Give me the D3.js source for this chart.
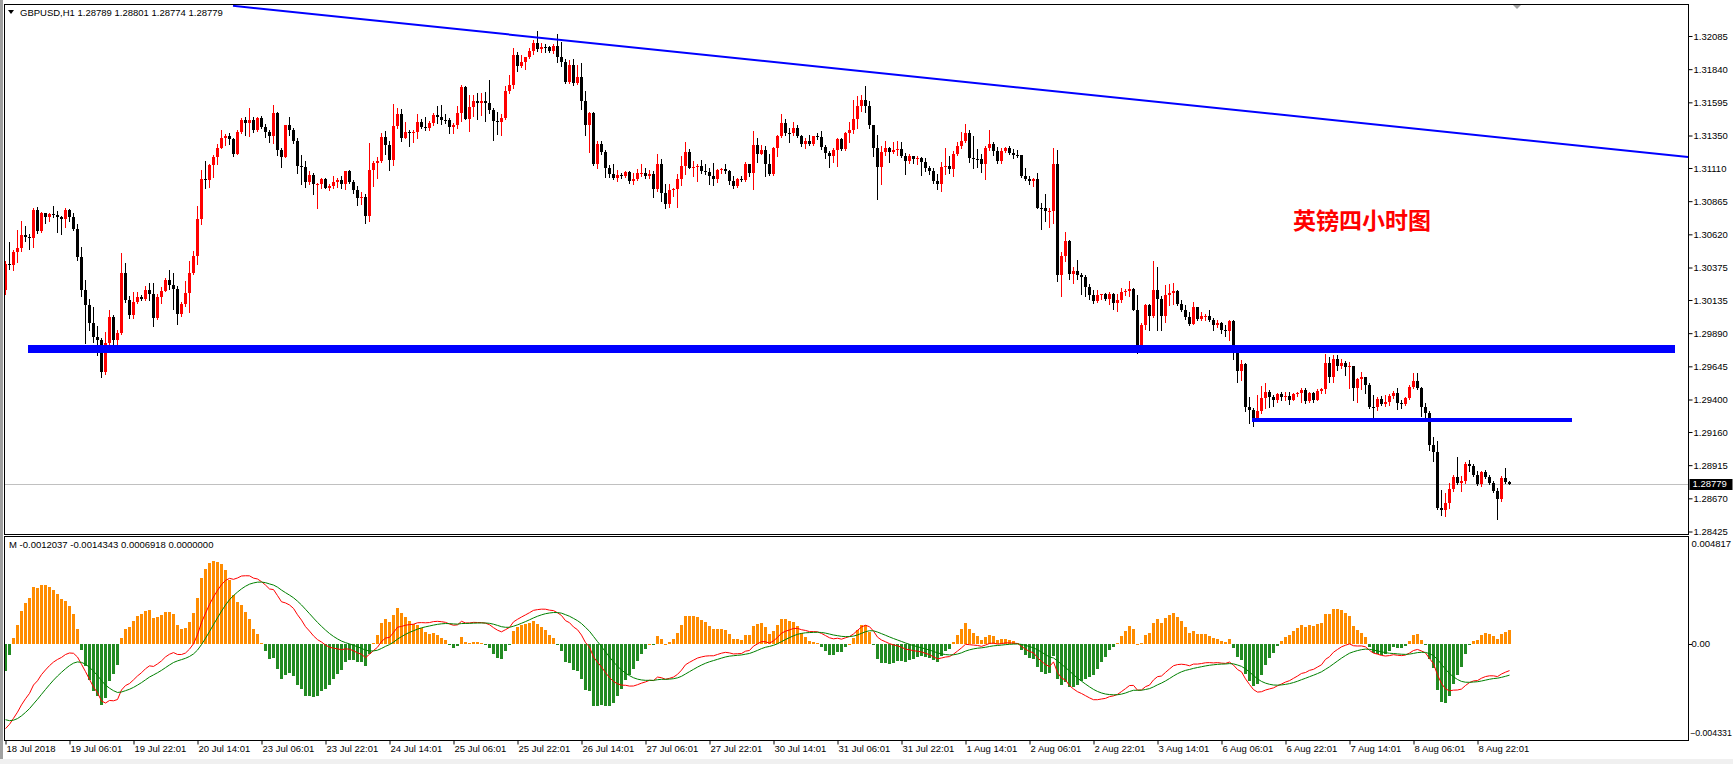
<!doctype html>
<html>
<head>
<meta charset="utf-8">
<script src="https://cdnjs.cloudflare.com/ajax/libs/d3/7.8.5/d3.min.js"></script>
<style>
  body { margin: 0; background: #fff; }
  svg { display: block; }
  text { font-family: "Liberation Sans", Arial, sans-serif; }
</style>
</head>
<body>
<div id="chart"></div>
<script>
// GBPUSD H1, 18 Jul 2018 14:00 .. 9 Aug 2018 06:00 (one value per bar)
var firstOpen = 1.30206;
var closes = [
  1.30402,1.30390,1.30488,1.30520,1.30615,1.30598,1.30595,1.30799,1.30642,1.30777,
  1.30750,1.30769,1.30765,1.30745,1.30733,1.30799,1.30750,1.30659,1.30456,1.30206,
  1.30096,1.29968,1.29863,1.29838,1.29606,1.29814,1.30010,1.29843,1.29892,1.30336,
  1.30137,1.30027,1.30120,1.30157,1.30142,1.30208,1.30177,1.30005,1.30157,1.30204,
  1.30284,1.30248,1.30218,1.30034,1.30108,1.30186,1.30333,1.30461,1.30733,1.31027,
  1.31022,1.31132,1.31191,1.31255,1.31328,1.31345,1.31321,1.31215,1.31377,1.31468,
  1.31441,1.31468,1.31387,1.31480,1.31411,1.31377,1.31345,1.31517,1.31240,1.31191,
  1.31424,1.31387,1.31308,1.31125,1.31120,1.31007,1.31056,1.30990,1.30995,1.31029,
  1.30965,1.30980,1.31010,1.31019,1.30990,1.31086,1.31010,1.30946,1.30885,1.30897,
  1.30757,1.31093,1.31144,1.31161,1.31338,1.31279,1.31169,1.31419,1.31509,1.31328,
  1.31375,1.31367,1.31375,1.31451,1.31411,1.31406,1.31441,1.31500,1.31485,1.31468,
  1.31462,1.31411,1.31426,1.31517,1.31710,1.31475,1.31563,1.31607,1.31588,1.31602,
  1.31588,1.31541,1.31455,1.31452,1.31482,1.31681,1.31725,1.31945,1.31860,1.31892,
  1.31928,1.31975,1.32031,1.31990,1.32007,1.32004,1.31977,1.32014,1.31933,1.31896,
  1.31745,1.31872,1.31735,1.31779,1.31607,1.31426,1.31517,1.31137,1.31284,1.31230,
  1.31108,1.31063,1.31034,1.31059,1.31054,1.31081,1.31015,1.31029,1.31071,1.31074,
  1.31051,1.31063,1.30953,1.31137,1.30929,1.30843,1.30946,1.30953,1.31027,1.31125,
  1.31228,1.31112,1.31117,1.31127,1.31088,1.31078,1.31051,1.31032,1.31095,1.31103,
  1.31088,1.31015,1.30975,1.31027,1.31024,1.31137,1.31071,1.31279,1.31215,1.31240,
  1.31137,1.31063,1.31255,1.31350,1.31441,1.31370,1.31365,1.31402,1.31345,1.31284,
  1.31308,1.31284,1.31343,1.31338,1.31264,1.31223,1.31198,1.31240,1.31323,1.31247,
  1.31370,1.31387,1.31475,1.31571,1.31615,1.31571,1.31426,1.31255,1.31117,1.31225,
  1.31255,1.31230,1.31240,1.31247,1.31198,1.31161,1.31201,1.31174,1.31181,1.31157,
  1.31108,1.31088,1.31015,1.30995,1.31117,1.31127,1.31100,1.31210,1.31269,1.31308,
  1.31367,1.31186,1.31180,1.31176,1.31142,1.31255,1.31284,1.31235,1.31161,1.31235,
  1.31255,1.31223,1.31206,1.31203,1.31051,1.31027,1.31015,1.31029,1.30818,1.30812,
  1.30789,1.30794,1.31137,1.30316,1.30463,1.30569,1.30324,1.30348,1.30316,1.30304,
  1.30230,1.30169,1.30128,1.30174,1.30178,1.30145,1.30181,1.30113,1.30132,1.30191,
  1.30201,1.30216,1.30064,1.29760,1.29954,1.30101,1.30015,1.30211,1.30145,1.30015,
  1.30169,1.30186,1.30199,1.30108,1.30064,1.30010,1.29956,1.30083,1.29998,1.30015,
  1.30020,1.29985,1.29949,1.29966,1.29912,1.29908,1.29981,1.29740,1.29613,1.29662,
  1.29348,1.29319,1.29255,1.29312,1.29410,1.29459,1.29417,1.29397,1.29442,1.29422,
  1.29427,1.29397,1.29442,1.29446,1.29471,1.29390,1.29451,1.29397,1.29466,1.29476,
  1.29667,1.29569,1.29696,1.29647,1.29672,1.29642,1.29647,1.29483,1.29549,1.29564,
  1.29508,1.29348,1.29345,1.29402,1.29368,1.29385,1.29427,1.29451,1.29373,1.29370,
  1.29410,1.29491,1.29540,1.29483,1.29348,1.29299,1.29067,1.29010,1.28601,1.28584,
  1.28638,1.28741,1.28829,1.28780,1.28797,1.28927,1.28907,1.28846,1.28773,1.28863,
  1.28829,1.28780,1.28724,1.28663,1.28822,1.28789,1.28779
];
var highs = [
  1.30426,1.30561,1.30505,1.30652,1.30716,1.30681,1.30622,1.30814,1.30821,1.30787,
  1.30769,1.30779,1.30826,1.30794,1.30757,1.30814,1.30809,1.30774,1.30696,1.30529,
  1.30284,1.30142,1.30083,1.29941,1.29851,1.29900,1.30064,1.30027,1.29917,1.30480,
  1.30407,1.30162,1.30191,1.30196,1.30172,1.30238,1.30260,1.30260,1.30177,1.30230,
  1.30299,1.30358,1.30333,1.30235,1.30118,1.30275,1.30422,1.30495,1.30828,1.31095,
  1.31161,1.31142,1.31206,1.31289,1.31387,1.31362,1.31372,1.31333,1.31387,1.31480,
  1.31485,1.31553,1.31485,1.31487,1.31492,1.31436,1.31394,1.31578,1.31524,1.31259,
  1.31431,1.31485,1.31402,1.31333,1.31206,1.31161,1.31088,1.31076,1.31000,1.31039,
  1.31037,1.30995,1.31051,1.31034,1.31049,1.31088,1.31098,1.31024,1.30975,1.30931,
  1.30916,1.31296,1.31161,1.31191,1.31370,1.31382,1.31308,1.31585,1.31553,1.31544,
  1.31451,1.31394,1.31394,1.31512,1.31475,1.31485,1.31455,1.31517,1.31566,1.31578,
  1.31509,1.31480,1.31443,1.31568,1.31725,1.31715,1.31647,1.31651,1.31661,1.31664,
  1.31669,1.31762,1.31553,1.31524,1.31509,1.31715,1.31798,1.31994,1.31965,1.31941,
  1.31933,1.31999,1.32056,1.32122,1.32031,1.32024,1.32014,1.32024,1.32097,1.32043,
  1.31916,1.31911,1.31914,1.31872,1.31884,1.31676,1.31524,1.31524,1.31313,1.31308,
  1.31240,1.31132,1.31137,1.31093,1.31076,1.31088,1.31088,1.31073,1.31100,1.31142,
  1.31112,1.31093,1.31088,1.31215,1.31174,1.30990,1.30995,1.30965,1.31063,1.31198,
  1.31301,1.31247,1.31161,1.31142,1.31166,1.31137,1.31108,1.31149,1.31100,1.31112,
  1.31142,1.31098,1.31051,1.31039,1.31051,1.31157,1.31142,1.31382,1.31328,1.31279,
  1.31269,1.31210,1.31264,1.31357,1.31509,1.31475,1.31406,1.31451,1.31431,1.31357,
  1.31328,1.31357,1.31348,1.31370,1.31382,1.31279,1.31235,1.31255,1.31333,1.31333,
  1.31377,1.31451,1.31615,1.31639,1.31647,1.31718,1.31607,1.31431,1.31357,1.31269,
  1.31308,1.31264,1.31304,1.31308,1.31304,1.31223,1.31210,1.31201,1.31201,1.31191,
  1.31186,1.31125,1.31108,1.31063,1.31157,1.31255,1.31198,1.31235,1.31304,1.31375,
  1.31436,1.31392,1.31343,1.31247,1.31215,1.31269,1.31387,1.31304,1.31264,1.31259,
  1.31264,1.31274,1.31247,1.31240,1.31203,1.31108,1.31051,1.31034,1.31076,1.30855,
  1.30916,1.30818,1.31255,1.31240,1.30488,1.30635,1.30578,1.30377,1.30431,1.30333,
  1.30316,1.30255,1.30211,1.30206,1.30181,1.30186,1.30191,1.30186,1.30177,1.30226,
  1.30218,1.30275,1.30226,1.30169,1.29966,1.30108,1.30108,1.30426,1.30377,1.30162,
  1.30243,1.30255,1.30260,1.30206,1.30132,1.30096,1.30047,1.30120,1.30083,1.30047,
  1.30034,1.30059,1.30005,1.29990,1.29973,1.29949,1.29990,1.29990,1.29753,1.29691,
  1.29667,1.29422,1.29336,1.29434,1.29500,1.29520,1.29471,1.29434,1.29451,1.29459,
  1.29459,1.29459,1.29451,1.29459,1.29483,1.29483,1.29459,1.29459,1.29476,1.29486,
  1.29736,1.29716,1.29728,1.29728,1.29696,1.29687,1.29679,1.29647,1.29557,1.29606,
  1.29569,1.29520,1.29434,1.29417,1.29427,1.29434,1.29442,1.29466,1.29483,1.29397,
  1.29422,1.29508,1.29594,1.29598,1.29496,1.29373,1.29312,1.29123,1.29091,1.28731,
  1.28711,1.28785,1.28846,1.28976,1.28834,1.28937,1.28952,1.28920,1.28871,1.28871,
  1.28878,1.28846,1.28797,1.28748,1.28834,1.28895,1.28801
];
var lows = [
  1.30177,1.30365,1.30358,1.30412,1.30500,1.30569,1.30512,1.30529,1.30632,1.30640,
  1.30706,1.30720,1.30745,1.30635,1.30622,1.30671,1.30720,1.30655,1.30431,1.30162,
  1.29821,1.29917,1.29826,1.29728,1.29564,1.29589,1.29802,1.29799,1.29804,1.29887,
  1.30118,1.30000,1.30005,1.30113,1.30132,1.30135,1.30132,1.29941,1.29998,1.30113,
  1.30201,1.30218,1.30071,1.29961,1.30020,1.30093,1.30049,1.30328,1.30402,1.30696,
  1.30961,1.30970,1.31044,1.31137,1.31255,1.31279,1.31289,1.31196,1.31210,1.31370,
  1.31353,1.31350,1.31377,1.31382,1.31406,1.31338,1.31304,1.31296,1.31206,1.31117,
  1.31191,1.31353,1.31294,1.31076,1.30995,1.30970,1.30995,1.30921,1.30811,1.30965,
  1.30961,1.30946,1.30965,1.30970,1.30961,1.30953,1.31000,1.30929,1.30838,1.30843,
  1.30706,1.30720,1.30978,1.31039,1.31157,1.31210,1.31093,1.31130,1.31406,1.31313,
  1.31328,1.31272,1.31299,1.31333,1.31402,1.31387,1.31387,1.31431,1.31443,1.31436,
  1.31441,1.31367,1.31370,1.31406,1.31455,1.31470,1.31382,1.31492,1.31470,1.31500,
  1.31455,1.31517,1.31318,1.31362,1.31357,1.31475,1.31664,1.31700,1.31828,1.31855,
  1.31843,1.31926,1.31950,1.31975,1.31965,1.31965,1.31965,1.31958,1.31896,1.31860,
  1.31737,1.31737,1.31725,1.31730,1.31549,1.31353,1.31230,1.31132,1.31112,1.31210,
  1.31044,1.31044,1.31027,1.31015,1.31039,1.31044,1.30997,1.30995,1.31019,1.31051,
  1.31034,1.31039,1.30897,1.30941,1.30867,1.30818,1.30823,1.30904,1.30823,1.30985,
  1.31063,1.31108,1.31051,1.31015,1.31076,1.31063,1.30990,1.30985,1.31010,1.31076,
  1.31076,1.30995,1.30961,1.30970,1.31015,1.31015,1.31051,1.30953,1.31157,1.31210,
  1.31051,1.31059,1.31059,1.31198,1.31338,1.31353,1.31304,1.31357,1.31338,1.31272,
  1.31255,1.31279,1.31279,1.31321,1.31247,1.31186,1.31117,1.31157,1.31125,1.31240,
  1.31240,1.31304,1.31370,1.31406,1.31534,1.31524,1.31402,1.31198,1.30880,1.30990,
  1.31206,1.31157,1.31223,1.31206,1.31191,1.31068,1.31149,1.31149,1.31137,1.31059,
  1.31088,1.31068,1.31002,1.30953,1.30941,1.31063,1.31076,1.31051,1.31206,1.31255,
  1.31299,1.31157,1.31108,1.31117,1.31083,1.31027,1.31240,1.31206,1.31147,1.31147,
  1.31230,1.31210,1.31181,1.31191,1.31044,1.31019,1.30995,1.30978,1.30814,1.30659,
  1.30720,1.30676,1.30701,1.30279,1.30162,1.30426,1.30292,1.30260,1.30292,1.30181,
  1.30162,1.30145,1.30113,1.30120,1.30145,1.30132,1.30103,1.30071,1.30054,1.30120,
  1.30169,1.30162,1.30059,1.29745,1.29753,1.29924,1.29917,1.30010,1.29917,1.29912,
  1.29973,1.30096,1.30108,1.30096,1.30054,1.29998,1.29949,1.29956,1.29990,1.29990,
  1.29990,1.29981,1.29917,1.29936,1.29892,1.29868,1.29843,1.29696,1.29532,1.29544,
  1.29312,1.29226,1.29201,1.29250,1.29299,1.29336,1.29344,1.29353,1.29385,1.29397,
  1.29397,1.29368,1.29397,1.29427,1.29385,1.29373,1.29385,1.29385,1.29393,1.29446,
  1.29451,1.29532,1.29532,1.29618,1.29630,1.29581,1.29483,1.29397,1.29378,1.29476,
  1.29451,1.29336,1.29238,1.29324,1.29361,1.29353,1.29361,1.29410,1.29329,1.29336,
  1.29361,1.29402,1.29483,1.29476,1.29280,1.29270,1.29025,1.28944,1.28589,1.28545,
  1.28540,1.28601,1.28724,1.28773,1.28724,1.28785,1.28871,1.28834,1.28765,1.28760,
  1.28822,1.28773,1.28716,1.28520,1.28650,1.28780,1.28774
];

// time axis: label text and the bar it sits on
var timeLabels = ["18 Jul 2018","19 Jul 06:01","19 Jul 22:01","20 Jul 14:01","23 Jul 06:01",
  "23 Jul 22:01","24 Jul 14:01","25 Jul 06:01","25 Jul 22:01","26 Jul 14:01","27 Jul 06:01",
  "27 Jul 22:01","30 Jul 14:01","31 Jul 06:01","31 Jul 22:01","1 Aug 14:01","2 Aug 06:01",
  "2 Aug 22:01","3 Aug 14:01","6 Aug 06:01","6 Aug 22:01","7 Aug 14:01","8 Aug 06:01","8 Aug 22:01"];
var timeLabelBars = [0,16,32,48,64,80,96,112,128,144,160,176,192,208,224,240,256,272,288,304,320,336,352,368];

var priceTicks = [1.32085,1.31840,1.31595,1.31350,1.31110,1.30865,1.30620,1.30375,
  1.30135,1.29890,1.29645,1.29400,1.29160,1.28915,1.28670,1.28425];
var priceRange = [1.28425, 1.32085];
var macdRange = [-0.004331, 0.004817];

// hand drawn objects: [bar, price]
var trendLine = [[57, 1.32308], [420, 1.31193]];
var supportThick = [[5.75, 1.29770], [417.5, 1.29770]];
var supportThin = [[311.75, 1.29248], [391.75, 1.29248]];
var note = { bar: 322, price: 1.30660, text: "英镑四小时图" };

// MACD(12,26,9) state at the first visible bar, read from the sub window
var macdSeed = { ema12: 1.30500, ema26: 1.30880, signal: -0.00340 };

var headerText = "GBPUSD,H1  1.28789 1.28801 1.28774 1.28779";
var macdHeader = "M -0.0012037 -0.0014343 0.0006918 0.0000000";

// ---------------------------------------------------------------
var W = 1733, H = 764;
var left = 4.5, right = 1688.5;
var pTop = 4.5, pBot = 534.5, mTop = 536.5, mBot = 740.5;

var svg = d3.select("#chart").append("svg")
  .attr("width", W).attr("height", H);

svg.append("rect").attr("width", W).attr("height", H).attr("fill", "#fff");
// window frame bits
svg.append("rect").attr("x", 0).attr("y", 0).attr("width", 3).attr("height", H).attr("fill", "#a0a0a0");
svg.append("rect").attr("x", 0).attr("y", 759).attr("width", W).attr("height", 5).attr("fill", "#f0f0f0");

var x = d3.scaleLinear().domain([0, 376]).range([5, 1509]);
var y = d3.scaleLinear().domain(priceRange).range([531.5, 36]);
var ym = d3.scaleLinear().domain(macdRange).range([mBot, mTop]);

var defs = svg.append("defs");
defs.append("clipPath").attr("id", "clipP").append("rect")
  .attr("x", left + 0.5).attr("y", pTop + 0.5).attr("width", right - left - 1).attr("height", pBot - pTop - 1);
defs.append("clipPath").attr("id", "clipM").append("rect")
  .attr("x", left + 0.5).attr("y", mTop + 0.5).attr("width", right - left - 1).attr("height", mBot - mTop - 1);

// ---------- price panel ----------
var data = closes.map(function(c, i) {
  var o = i === 0 ? firstOpen : closes[i - 1];
  return { i: i, o: o, c: c, h: Math.max(highs[i], o, c), l: Math.min(lows[i], o, c) };
});

var gp = svg.append("g").attr("clip-path", "url(#clipP)").attr("shape-rendering", "crispEdges");

// bid line
gp.append("line")
  .attr("x1", left).attr("x2", right)
  .attr("y1", Math.round(y(closes[closes.length - 1])) + 0.5)
  .attr("y2", Math.round(y(closes[closes.length - 1])) + 0.5)
  .attr("stroke", "#c0c0c0");

var candle = gp.selectAll("g.candle").data(data).enter().append("g");
candle.append("line")
  .attr("x1", function(d) { return Math.round(x(d.i)) + 0.5; })
  .attr("x2", function(d) { return Math.round(x(d.i)) + 0.5; })
  .attr("y1", function(d) { return Math.round(y(d.h)); })
  .attr("y2", function(d) { return Math.round(y(d.l)) + 1; })
  .attr("stroke", function(d) { return d.c > d.o ? "#ff0000" : "#000"; });
candle.append("rect")
  .attr("x", function(d) { return Math.round(x(d.i)) - 1; })
  .attr("width", 3)
  .attr("y", function(d) { return Math.round(y(Math.max(d.o, d.c))); })
  .attr("height", function(d) { return Math.max(1, Math.round(y(Math.min(d.o, d.c))) - Math.round(y(Math.max(d.o, d.c)))); })
  .attr("fill", function(d) { return d.c > d.o ? "#ff0000" : "#000"; });

var line2 = d3.line().x(function(d) { return x(d[0]); }).y(function(d) { return y(d[1]); });

// trend line is a ray to the right edge
var slope = (trendLine[1][1] - trendLine[0][1]) / (trendLine[1][0] - trendLine[0][0]);
var endBar = x.invert(right);
gp.append("path")
  .datum([trendLine[0], [endBar, trendLine[0][1] + slope * (endBar - trendLine[0][0])]])
  .attr("d", line2).attr("fill", "none").attr("stroke", "#0000ff").attr("stroke-width", 2)
  .attr("shape-rendering", "auto");
gp.append("path").datum(supportThick).attr("d", line2)
  .attr("fill", "none").attr("stroke", "#0000ff").attr("stroke-width", 8);
gp.append("path").datum(supportThin).attr("d", line2)
  .attr("fill", "none").attr("stroke", "#0000ff").attr("stroke-width", 4);

svg.append("text")
  .attr("x", x(note.bar)).attr("y", y(note.price))
  .attr("fill", "#ff0000")
  .style("font-family", "'Noto Sans CJK SC', sans-serif")
  .style("font-size", "23px").style("font-weight", "bold")
  .text(note.text);

// ---------- MACD panel ----------
var ema12 = macdSeed.ema12, ema26 = macdSeed.ema26, sig = macdSeed.signal;
var macd = [], signal = [], hist = [];
closes.forEach(function(c, i) {
  if (i > 0) {
    ema12 += (c - ema12) * 2 / 13;
    ema26 += (c - ema26) * 2 / 27;
  }
  var m = ema12 - ema26;
  if (i > 0) sig += (m - sig) * 2 / 10;
  macd.push(m); signal.push(sig); hist.push(3 * (m - sig));
});

var gm = svg.append("g").attr("clip-path", "url(#clipM)");
gm.selectAll("rect.h").data(hist).enter().append("rect")
  .attr("shape-rendering", "crispEdges")
  .attr("x", function(d, i) { return Math.round(x(i)) - 1; })
  .attr("width", 3)
  .attr("y", function(d) { return Math.round(ym(Math.max(0, d))); })
  .attr("height", function(d) { return Math.max(1, Math.abs(Math.round(ym(d)) - Math.round(ym(0)))); })
  .attr("fill", function(d) { return d >= 0 ? "#ff8c00" : "#228b22"; });

var lineM = d3.line().x(function(d, i) { return x(i) + 0.5; }).y(function(d) { return ym(d); });
gm.append("path").datum(macd).attr("d", lineM).attr("fill", "none").attr("stroke", "#ff0000").attr("stroke-width", 1);
gm.append("path").datum(signal).attr("d", lineM).attr("fill", "none").attr("stroke", "#008000").attr("stroke-width", 1);

// ---------- frames ----------
[[pTop, pBot], [mTop, mBot]].forEach(function(p) {
  svg.append("rect").attr("x", left).attr("y", p[0]).attr("width", right - left).attr("height", p[1] - p[0])
    .attr("fill", "none").attr("stroke", "#000").attr("shape-rendering", "crispEdges");
});

// ---------- axes ----------
var ay = svg.append("g").attr("transform", "translate(" + right + ",0)")
  .call(d3.axisRight(y).tickValues(priceTicks).tickSize(4).tickPadding(1).tickFormat(d3.format(".5f")));
ay.select(".domain").remove();
ay.selectAll("text").attr("font-family", "Liberation Sans, Arial, sans-serif").attr("font-size", "9.5px").attr("fill", "#000");
ay.attr("font-size", null).attr("font-family", null);

var ax = svg.append("g").attr("transform", "translate(0," + mBot + ")")
  .call(d3.axisBottom(x).tickValues(timeLabelBars).tickSize(4).tickPadding(1)
    .tickFormat(function(d, i) { return timeLabels[i]; }));
ax.select(".domain").remove();
ax.selectAll(".tick line").attr("transform", "translate(0.5,0)");
ax.selectAll("text").attr("text-anchor", "start").attr("dx", "1")
  .attr("font-family", "Liberation Sans, Arial, sans-serif").attr("font-size", "9.5px").attr("fill", "#000");
ax.attr("font-size", null).attr("font-family", null);

// MACD scale labels
var mLab = svg.append("g").attr("font-size", "9.5px").attr("fill", "#000");
mLab.append("text").attr("x", right + 3).attr("y", ym(macdRange[1]) + 7).attr("dy", "0.32em").text(d3.format(".6f")(macdRange[1]));
mLab.append("text").attr("x", right + 3).attr("y", ym(0)).attr("dy", "0.32em").text("0.00");
mLab.append("text").attr("x", right + 1.5).attr("y", ym(macdRange[0]) - 7).attr("dy", "0.32em")
  .attr("font-size", "8.8px").text(d3.format(".6f")(macdRange[0]));
svg.append("line").attr("x1", right).attr("x2", right + 3).attr("y1", Math.round(ym(0)) + 0.5).attr("y2", Math.round(ym(0)) + 0.5)
  .attr("stroke", "#000").attr("shape-rendering", "crispEdges");

// current price tag
var lastY = y(closes[closes.length - 1]);
svg.append("rect").attr("x", right + 1).attr("y", Math.round(lastY) - 5).attr("width", 43).attr("height", 11).attr("fill", "#000");
svg.append("text").attr("x", right + 4).attr("y", lastY + 0.5).attr("dy", "0.32em")
  .attr("font-size", "9.5px").attr("fill", "#fff").text(d3.format(".5f")(closes[closes.length - 1]));

// headers
svg.append("path").attr("d", "M8,10 L14,10 L11,14 Z").attr("fill", "#000");
svg.append("text").attr("x", 20).attr("y", 13).attr("dy", "0.32em").attr("font-size", "9.5px").attr("fill", "#000").text(headerText);
svg.append("text").attr("x", 9).attr("y", 545).attr("dy", "0.32em").attr("font-size", "9.5px").attr("fill", "#000").text(macdHeader);

// chart shift marker
svg.append("path").attr("d", "M1513,5 L1521,5 L1517,9 Z").attr("fill", "#a0a0a0");
</script>
</body>
</html>
